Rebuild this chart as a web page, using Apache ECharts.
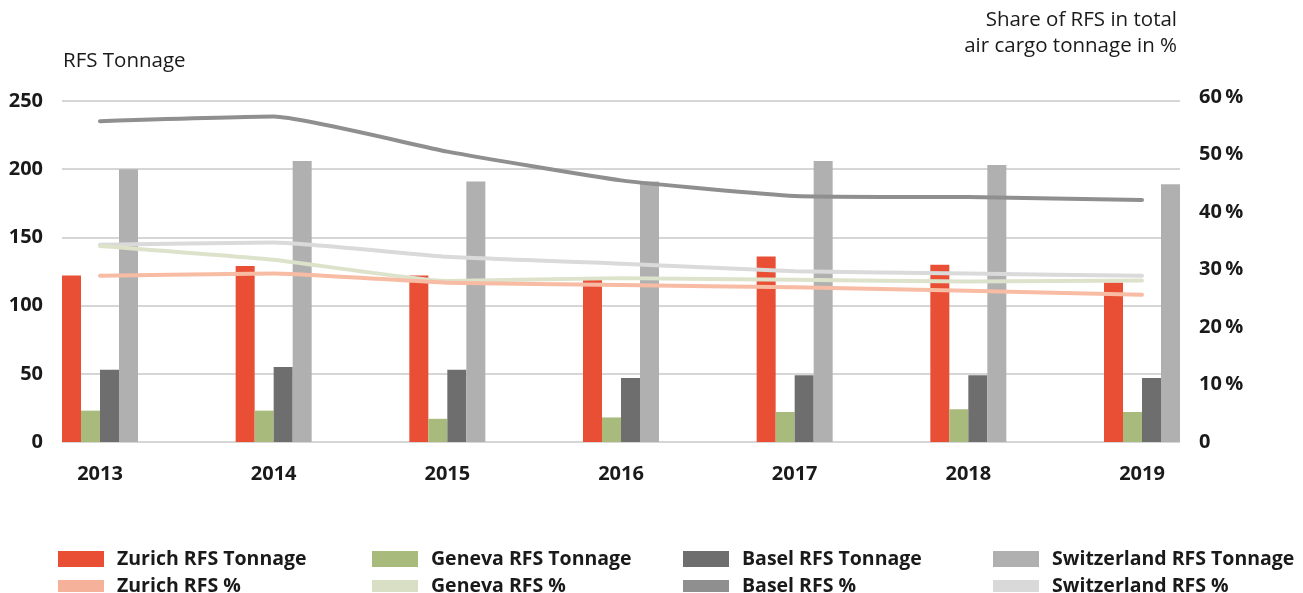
<!DOCTYPE html>
<html>
<head>
<meta charset="utf-8">
<script src="https://cdn.jsdelivr.net/npm/echarts@6/dist/echarts.min.js"></script>
<style>
html,body{margin:0;padding:0;background:#fff;}
#chart{width:1303px;height:593px;}
</style>
</head>
<body>
<div id="chart"></div>
<script>
const years = ['2013','2014','2015','2016','2017','2018','2019'];
const leftTicks = [0, 50, 100, 150, 200, 250];
const rightTicks = [0, 10, 20, 30, 40, 50, 60];

const zurichTon = [122, 129, 122, 121, 136, 130, 117];
const genevaTon = [23, 23, 17, 18, 22, 24, 22];
const baselTon = [53, 55, 53, 47, 49, 49, 47];
const swissTon = [200, 206, 191, 191, 206, 203, 189];

const zurichPct = [28.9, 29.3, 27.7, 27.3, 26.9, 26.3, 25.6];
const genevaPct = [34.1, 31.7, 28.0, 28.5, 28.2, 27.9, 28.1];
const baselPct = [55.8, 56.6, 50.5, 45.5, 42.8, 42.6, 42.1];
const swissPct = [34.3, 34.7, 32.2, 31.0, 29.7, 29.3, 28.9];

const FONT = '"Open Sans", "DejaVu Sans", sans-serif';
const TXT = '#1a1a1a';

const chart = echarts.init(document.getElementById('chart'), null, {renderer: 'canvas'});

function barSeries(name, data, color) {
  return {
    name: name, type: 'bar', xAxisIndex: 1, yAxisIndex: 1,
    data: data, barWidth: 19, barGap: '0%',
    itemStyle: {color: color}, emphasis: {disabled: true}
  };
}
function lineSeries(name, data, color) {
  return {
    name: name, type: 'line', xAxisIndex: 2, yAxisIndex: 2,
    data: data, smooth: 0.15, symbol: 'none',
    lineStyle: {color: color, width: 4, cap: 'round', join: 'round'},
    itemStyle: {color: color}, emphasis: {disabled: true}
  };
}
function legendItem(left, top, h, name, color) {
  return {
    orient: 'horizontal', left: left, top: top, padding: 0,
    itemWidth: 46, itemHeight: h, icon: 'rect',
    selectedMode: false,
    itemStyle: {color: color},
    textStyle: {fontFamily: FONT, fontSize: 19.5, fontWeight: 'bold', color: TXT, padding: [0, 0, 0, 8]},
    data: [name]
  };
}
const colLeft = [58, 372, 683, 993];

const option = {
  animation: false,
  backgroundColor: '#ffffff',
  title: [
    {text: 'RFS Tonnage', left: 63, top: 51, padding: 0,
     textStyle: {fontFamily: FONT, fontSize: 20.5, fontWeight: 'normal', color: TXT}},
    {text: 'Share of RFS in total', right: 126, top: 10, padding: 0,
     textStyle: {fontFamily: FONT, fontSize: 20.5, fontWeight: 'normal', color: TXT}},
    {text: 'air cargo tonnage in %', right: 126, top: 36, padding: 0,
     textStyle: {fontFamily: FONT, fontSize: 20.5, fontWeight: 'normal', color: TXT}}
  ],
  grid: [
    {left: 62, right: 123, top: 101, bottom: 151},
    {left: 100, right: 161, top: 101, bottom: 151},
    {left: 100, right: 161, top: 97, bottom: 151}
  ],
  xAxis: [
    {gridIndex: 0, type: 'value', show: false, min: 0, max: 1},
    {gridIndex: 1, type: 'category', data: years, boundaryGap: false,
     axisLine: {show: false}, axisTick: {show: false}, splitLine: {show: false},
     axisLabel: {margin: 22, fontFamily: FONT, fontSize: 20, fontWeight: 'bold', color: TXT}},
    {gridIndex: 2, type: 'category', data: years, boundaryGap: false, show: false}
  ],
  yAxis: [
    {gridIndex: 0, type: 'value', min: leftTicks[0], max: leftTicks[leftTicks.length - 1], interval: 50,
     axisLine: {show: false}, axisTick: {show: false},
     splitLine: {show: true, lineStyle: {color: '#c8c8c8', width: 1.5}},
     axisLabel: {margin: 19, fontFamily: FONT, fontSize: 20, fontWeight: 'bold', color: TXT}},
    {gridIndex: 1, type: 'value', min: leftTicks[0], max: leftTicks[leftTicks.length - 1], show: false},
    {gridIndex: 2, type: 'value', position: 'right', offset: 38,
     min: rightTicks[0], max: rightTicks[rightTicks.length - 1], interval: 10,
     axisLine: {show: false}, axisTick: {show: false}, splitLine: {show: false},
     axisLabel: {margin: 19, fontFamily: FONT, fontSize: 20, fontWeight: 'bold', color: TXT,
       formatter: function (v) { return v === 0 ? '0' : v + '\u2009%'; }}}
  ],
  legend: [
    legendItem(colLeft[0], 549, 16, 'Zurich RFS Tonnage', '#e84f35'),
    legendItem(colLeft[1], 549, 16, 'Geneva RFS Tonnage', '#a9ba7d'),
    legendItem(colLeft[2], 549, 16, 'Basel RFS Tonnage', '#6e6e6e'),
    legendItem(colLeft[3], 549, 16, 'Switzerland RFS Tonnage', '#b0b0b0'),
    legendItem(colLeft[0], 576, 12, 'Zurich RFS %', '#f6b19a'),
    legendItem(colLeft[1], 576, 12, 'Geneva RFS %', '#d8dfc4'),
    legendItem(colLeft[2], 576, 12, 'Basel RFS %', '#8f8f8f'),
    legendItem(colLeft[3], 576, 12, 'Switzerland RFS %', '#d9d9d9')
  ],
  series: [
    barSeries('Zurich RFS Tonnage', zurichTon, '#e84f35'),
    barSeries('Geneva RFS Tonnage', genevaTon, '#a9ba7d'),
    barSeries('Basel RFS Tonnage', baselTon, '#6e6e6e'),
    barSeries('Switzerland RFS Tonnage', swissTon, '#b0b0b0'),
    lineSeries('Basel RFS %', baselPct, '#8f8f8f'),
    lineSeries('Switzerland RFS %', swissPct, '#dadada'),
    lineSeries('Geneva RFS %', genevaPct, '#dde3cb'),
    lineSeries('Zurich RFS %', zurichPct, '#f8bba3')
  ]
};
chart.setOption(option);
</script>
</body>
</html>
